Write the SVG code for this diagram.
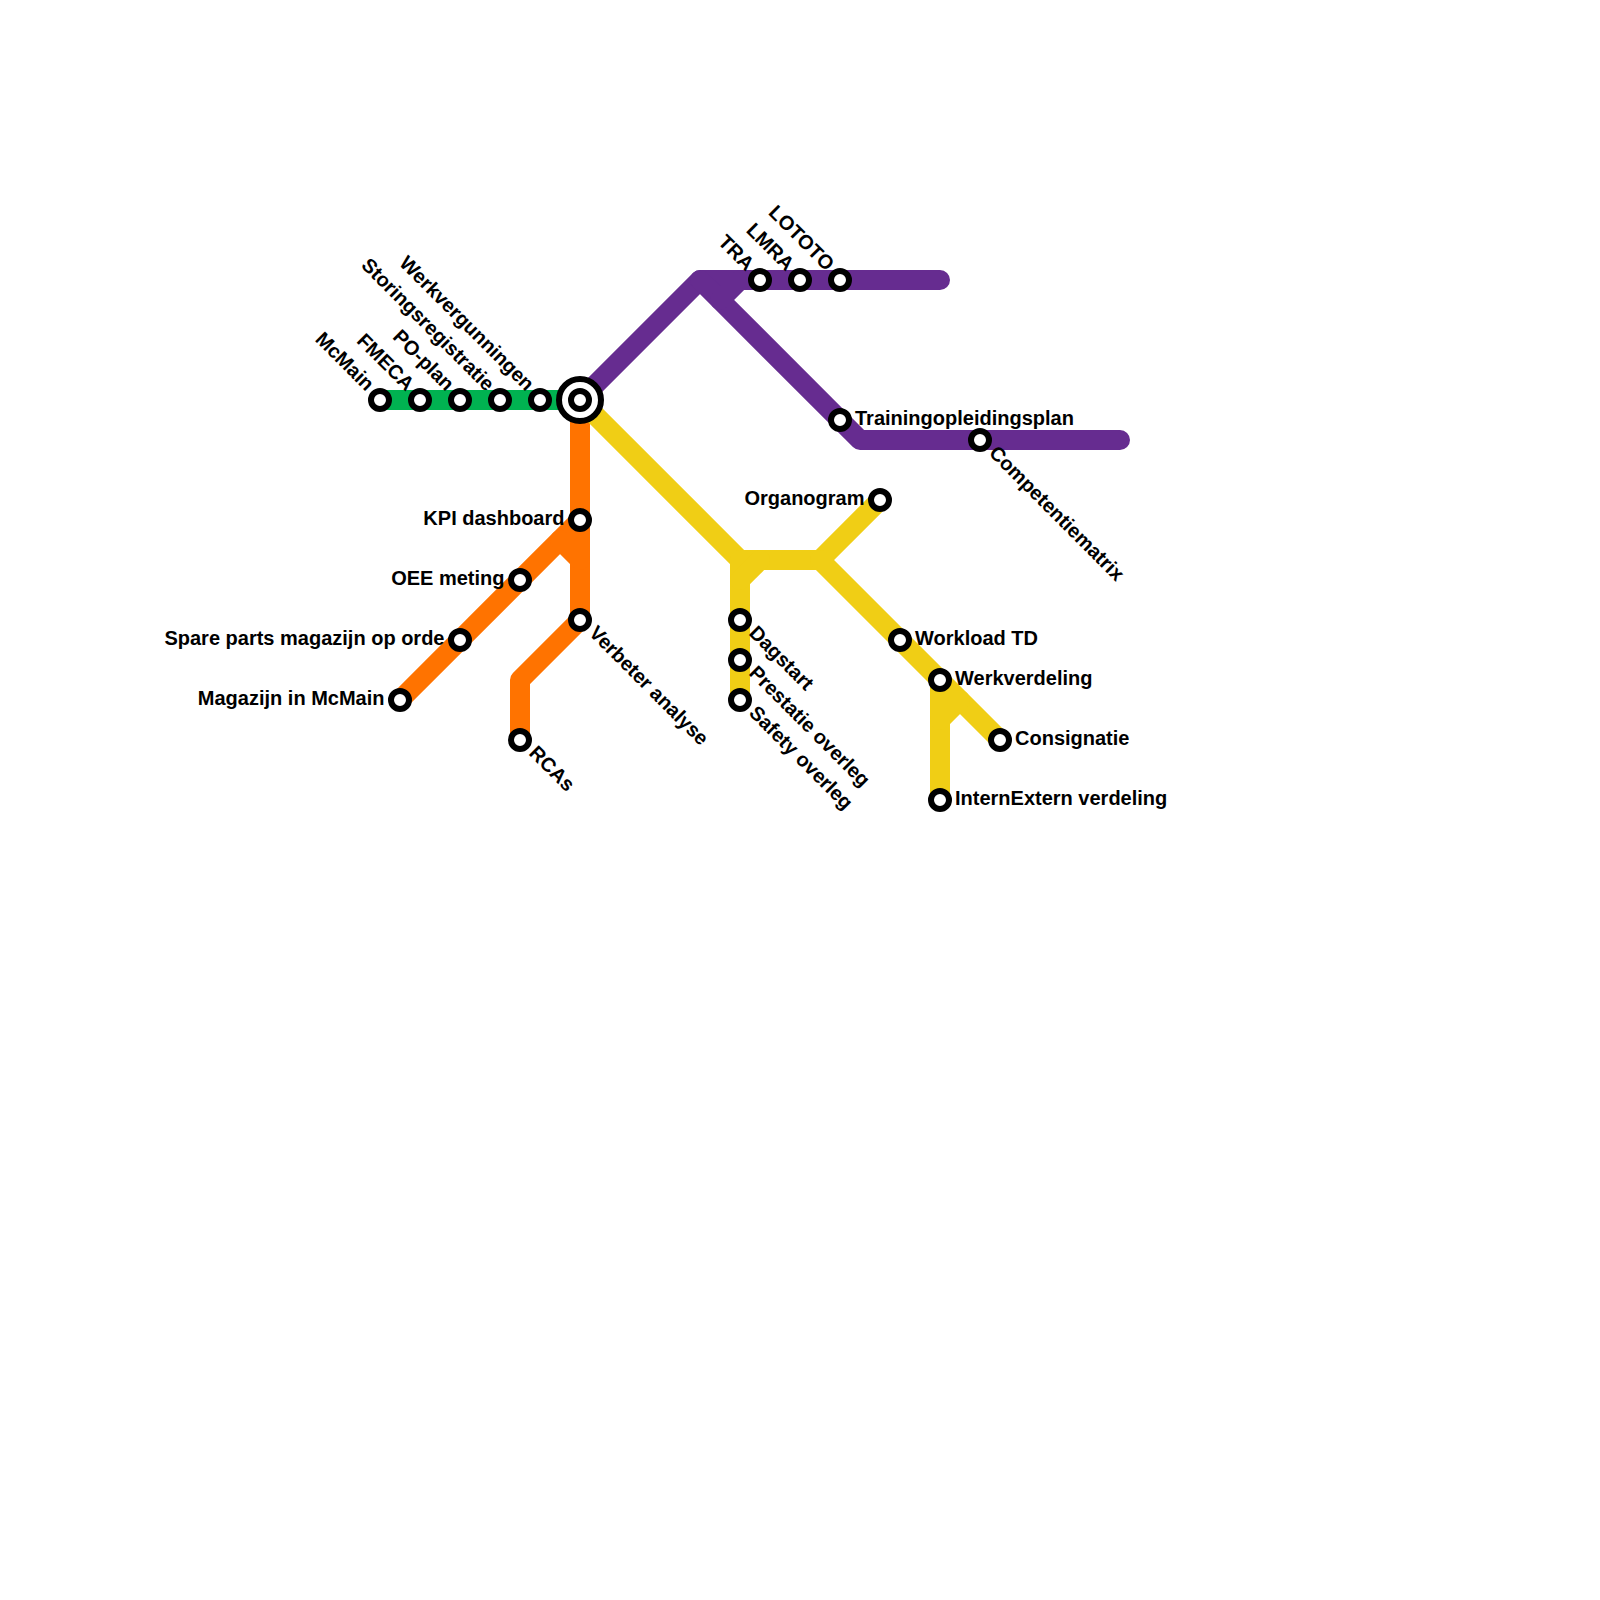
<svg xmlns="http://www.w3.org/2000/svg" width="1600" height="1600" viewBox="0 0 1600 1600">
<style>
.l{fill:none;stroke-width:20;stroke-linecap:round;stroke-linejoin:round}
.g{stroke:#00b251}.o{stroke:#ff7300}.p{stroke:#662c90}.y{stroke:#f0ce15}
.s{fill:#fff;stroke:#000;stroke-width:6}
text{font-family:"Liberation Sans",Arial,sans-serif;font-size:20px;font-weight:700;fill:#000}
.e{text-anchor:end}
</style>
<rect width="1600" height="1600" fill="#fff"/>
<g id="connectors">
<path class="l g" d="M380 400H580"/>
<path class="l o" d="M580 400V620L520 680V740"/>
<path class="l o" d="M400 700L580 520"/>
<path class="l o" d="M560 540L580 560"/>
<path class="l p" d="M580 400L700 280H940"/>
<path class="l p" d="M700 280L860 440H1120"/>
<path class="l p" d="M720 300L740 280"/>
<path class="l y" d="M580 400L740 560H820L880 500"/>
<path class="l y" d="M820 560L1000 740"/>
<path class="l y" d="M740 560V700"/>
<path class="l y" d="M740 580L760 560"/>
<path class="l y" d="M940 680V800"/>
<path class="l y" d="M940 720L960 700"/>
</g>
<g id="n-mcmain"><circle class="s" cx="380" cy="400" r="9"/><text class="e" transform="translate(366 392) rotate(45)">McMain</text></g>
<g id="n-fmeca"><circle class="s" cx="420" cy="400" r="9"/><text class="e" transform="translate(406 392) rotate(45)">FMECA</text></g>
<g id="n-poplan"><circle class="s" cx="460" cy="400" r="9"/><text class="e" transform="translate(446 392) rotate(45)">PO-plan</text></g>
<g id="n-storing"><circle class="s" cx="500" cy="400" r="9"/><text class="e" transform="translate(486 392) rotate(45)">Storingsregistratie</text></g>
<g id="n-werkverg"><circle class="s" cx="540" cy="400" r="9"/><text class="e" transform="translate(526 392) rotate(45)">Werkvergunningen</text></g>
<g id="n-hub"><circle class="s" cx="580" cy="400" r="21"/><circle class="s" cx="580" cy="400" r="9"/></g>
<g id="n-kpi"><circle class="s" cx="580" cy="520" r="9"/><text class="e" x="564.5" y="520" dy="5">KPI dashboard</text></g>
<g id="n-oee"><circle class="s" cx="520" cy="580" r="9"/><text class="e" x="504.5" y="580" dy="5">OEE meting</text></g>
<g id="n-spare"><circle class="s" cx="460" cy="640" r="9"/><text class="e" x="444.5" y="640" dy="5">Spare parts magazijn op orde</text></g>
<g id="n-magazijn"><circle class="s" cx="400" cy="700" r="9"/><text class="e" x="384.5" y="700" dy="5">Magazijn in McMain</text></g>
<g id="n-verbeter"><circle class="s" cx="580" cy="620" r="9"/><text transform="translate(588 634) rotate(45)">Verbeter analyse</text></g>
<g id="n-rcas"><circle class="s" cx="520" cy="740" r="9"/><text transform="translate(528 754) rotate(45)">RCAs</text></g>
<g id="n-tra"><circle class="s" cx="760" cy="280" r="9"/><text class="e" transform="translate(746 272) rotate(45)">TRA</text></g>
<g id="n-lmra"><circle class="s" cx="800" cy="280" r="9"/><text class="e" transform="translate(786 272) rotate(45)">LMRA</text></g>
<g id="n-lototo"><circle class="s" cx="840" cy="280" r="9"/><text class="e" transform="translate(826 272) rotate(45)">LOTOTO</text></g>
<g id="n-training"><circle class="s" cx="840" cy="420" r="9"/><text x="855" y="420" dy="5">Trainingopleidingsplan</text></g>
<g id="n-competentie"><circle class="s" cx="980" cy="440" r="9"/><text transform="translate(988 454) rotate(45)">Competentiematrix</text></g>
<g id="n-organogram"><circle class="s" cx="880" cy="500" r="9"/><text class="e" x="864.5" y="500" dy="5">Organogram</text></g>
<g id="n-dagstart"><circle class="s" cx="740" cy="620" r="9"/><text transform="translate(748 634) rotate(45)">Dagstart</text></g>
<g id="n-prestatie"><circle class="s" cx="740" cy="660" r="9"/><text transform="translate(748 674) rotate(45)">Prestatie overleg</text></g>
<g id="n-safety"><circle class="s" cx="740" cy="700" r="9"/><text transform="translate(748 714) rotate(45)">Safety overleg</text></g>
<g id="n-workload"><circle class="s" cx="900" cy="640" r="9"/><text x="915" y="640" dy="5">Workload TD</text></g>
<g id="n-werkverdeling"><circle class="s" cx="940" cy="680" r="9"/><text x="955" y="680" dy="5">Werkverdeling</text></g>
<g id="n-consignatie"><circle class="s" cx="1000" cy="740" r="9"/><text x="1015" y="740" dy="5">Consignatie</text></g>
<g id="n-internextern"><circle class="s" cx="940" cy="800" r="9"/><text x="955" y="800" dy="5">InternExtern verdeling</text></g>
</svg>
